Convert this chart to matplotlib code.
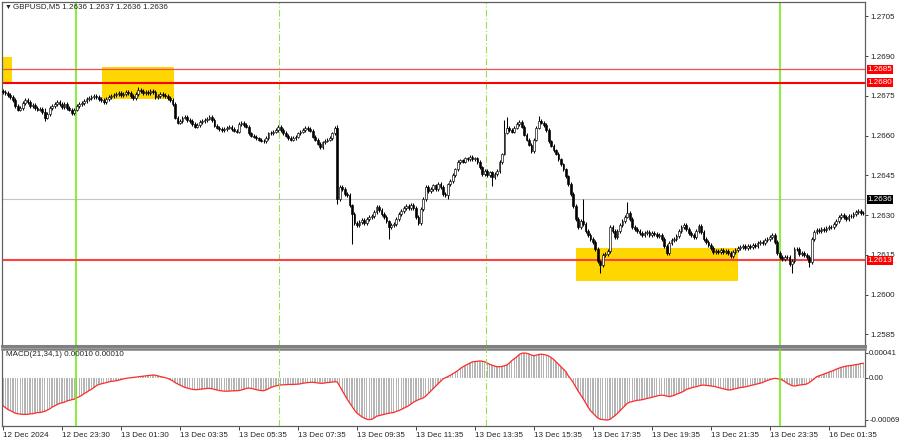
import matplotlib.pyplot as plt
from matplotlib.patches import Rectangle
import numpy as np

plt.rcParams['font.family'] = ['Liberation Sans', 'DejaVu Sans']

BASE = 1.2600
PIP = 0.0001

# closes of the M5 bars, in pips above 1.2600
close_pips = [
    76.5, 76.1, 75.4, 74.6, 73.5, 71.2, 69.8, 70.5, 72.4, 73.5,
    72.8, 71.2, 71.6, 70.5, 69.8, 70.1, 69.0, 66.8, 68.2, 70.5,
    71.2, 72.0, 72.8, 72.0, 70.9, 72.0, 70.5, 69.8, 68.6, 69.8,
    71.2, 72.0, 72.4, 73.1, 73.9, 74.2, 74.6, 75.0, 74.6, 73.9,
    73.5, 72.8, 73.9, 74.6, 75.0, 75.4, 75.8, 76.1, 75.4, 75.8,
    76.5, 76.1, 75.0, 74.2, 75.8, 77.2, 76.9, 76.1, 76.5, 76.1,
    76.9, 76.5, 74.6, 75.0, 75.8, 75.4, 75.0, 74.2, 73.5, 72.0,
    66.8, 64.9, 65.6, 66.8, 67.1, 66.0, 65.6, 64.5, 63.4, 64.1,
    65.2, 65.6, 66.0, 66.4, 67.1, 66.0, 63.8, 63.0, 62.6, 62.2,
    62.6, 63.0, 63.4, 62.6, 61.9, 61.5, 64.5, 64.9, 64.1, 63.4,
    60.8, 60.0, 59.6, 58.9, 58.5, 58.1, 57.8, 59.2, 60.8, 61.1,
    61.5, 62.2, 63.4, 62.2, 61.1, 60.0, 59.2, 58.5, 59.2, 59.6,
    60.8, 61.5, 62.2, 63.0, 62.6, 61.9, 59.6, 58.5, 57.0, 55.5,
    57.4, 58.1, 58.5, 59.2, 60.8, 63.0, 36.0, 40.5, 39.8, 37.9,
    37.5, 33.8, 30.4, 27.0, 26.2, 27.4, 28.1, 27.0, 28.5, 29.2,
    29.6, 31.1, 33.0, 31.9, 30.4, 29.2, 27.8, 25.5, 26.2, 26.6,
    28.5, 30.4, 31.5, 32.6, 33.4, 32.6, 33.8, 32.6, 29.2, 27.0,
    32.2, 36.0, 40.5, 39.0, 39.8, 41.2, 39.8, 41.6, 40.5, 37.9,
    37.5, 41.6, 42.8, 45.0, 47.2, 49.9, 50.6, 50.2, 51.4, 51.0,
    51.8, 51.0, 51.4, 49.9, 48.0, 45.4, 46.5, 45.0, 46.1, 44.2,
    45.4, 46.5, 49.9, 52.9, 61.1, 63.0, 62.2, 61.5, 63.0, 64.5,
    65.2, 63.4, 60.4, 58.5, 56.6, 54.0, 58.5, 63.0, 65.6, 64.9,
    64.1, 62.2, 57.8, 56.2, 54.4, 53.2, 51.0, 49.1, 47.2, 44.6,
    41.6, 37.9, 33.4, 28.5, 25.5, 27.8, 26.6, 24.0, 22.5, 21.0,
    19.9, 17.2, 12.8, 11.2, 15.0, 15.4, 16.5, 25.5, 24.0, 21.8,
    24.0, 26.2, 27.8, 29.2, 30.8, 28.5, 25.5, 24.8, 24.0, 23.2,
    22.5, 23.2, 23.6, 22.5, 23.2, 22.9, 22.1, 22.5, 21.0, 18.4,
    15.8, 19.5, 20.6, 21.0, 22.1, 24.0, 25.5, 26.2, 24.8, 23.2,
    22.5, 21.8, 24.0, 25.9, 23.6, 21.0, 19.9, 18.8, 17.6, 16.1,
    16.5, 16.1, 16.9, 16.1, 16.5, 15.8, 14.6, 16.1, 16.9, 17.6,
    18.0, 18.4, 17.6, 18.4, 18.0, 18.8, 18.4, 19.5, 19.9, 19.5,
    20.6, 21.0, 21.8, 22.5, 19.9, 15.8, 14.2, 13.5, 14.2, 14.2,
    11.6, 12.8, 17.2, 17.2, 15.4, 15.8, 15.0, 14.2, 12.4, 21.0,
    23.6, 24.4, 24.0, 24.8, 24.4, 25.1, 25.5, 25.5, 26.6, 27.8,
    29.2, 30.0, 29.2, 28.5, 29.6, 29.6, 30.4, 31.1, 31.5, 30.8, 30.8,
]
first_open_pips = 77.0
wick_pips = 0.7
# bars with long shadows: index -> (high, low) in pips
long_wicks = {
    17: (70.5, 65.5), 55: (78.5, 75.0), 136: (64.0, 34.0), 142: (34.0, 19.0),
    157: (28.0, 21.0), 181: (42.0, 36.0), 199: (46.5, 41.0), 204: (66.0, 52.5),
    205: (67.0, 60.5), 218: (67.5, 62.5), 236: (36.0, 26.0), 243: (13.0, 8.0),
    254: (35.0, 29.0), 321: (13.5, 8.0), 328: (15.0, 10.5),
}

# MACD(21,34,1) main value per bar, in 1e-5
macd = [
    -46, -49, -52, -54, -56, -58, -59, -59.5, -60, -60,
    -60, -59, -59, -58, -57, -57, -56, -55, -53, -51,
    -48, -46, -44, -42, -41, -40, -38, -37, -36, -35,
    -33, -31, -29, -26, -24, -21, -19, -16, -13, -11,
    -10, -9, -8, -7, -6, -5.5, -5, -4, -3, -2,
    -1, -0.5, 0, 0.5, 1, 1.5, 2, 2.5, 3, 3.5,
    4, 4.5, 4, 3, 2, 1, 0, -1, -3, -5,
    -8, -10, -12, -14, -16, -17, -18, -19, -19.5, -19.5,
    -19, -18.5, -18, -17.5, -17.4, -18, -19, -20, -21, -21.5,
    -22, -22, -22, -21.5, -21.5, -21.3, -21, -20, -19, -17.5,
    -17, -17.5, -18.5, -19.5, -20.5, -21, -21.3, -20, -18, -16,
    -14.5, -13.5, -12.5, -12, -11.5, -11.5, -11, -11, -11, -10.8,
    -10.5, -10, -9, -8.5, -8, -7.5, -7.5, -8, -8.5, -9,
    -9.2, -8.5, -8, -7.5, -7, -6.6, -7, -14, -21, -28,
    -35, -41, -47, -53, -58, -61, -64, -66, -68, -68.5,
    -68, -66, -63, -62, -61, -60, -59, -58, -57.5, -57,
    -55, -54, -52, -50, -48, -46, -43, -40, -38, -36,
    -34.5, -33, -30, -26, -22, -18, -14, -10, -6, -2,
    0, 2, 4, 6.5, 9, 11.5, 15, 17.5, 20, 22,
    24, 26, 26.5, 27, 27.4, 27, 26, 24, 22, 20.5,
    19, 18, 18, 18.5, 19.5, 21, 24, 28, 31, 34,
    38, 40, 40.5, 40, 38.9, 37, 36, 37, 38, 38.5,
    38, 37, 35.5, 33, 30, 26, 22, 18, 14, 10,
    3, -2, -8, -15, -22, -28, -34, -41, -48, -54,
    -58, -62, -66, -68, -68.5, -69, -69.3, -68, -65, -62,
    -58.4, -54, -50, -46, -42, -40, -39, -38, -37, -36.6,
    -36, -35, -34, -33, -32, -31, -30, -29, -28.5, -29,
    -30, -31, -30, -29, -27, -25.6, -24, -22, -19, -18,
    -16.5, -15.5, -14.8, -13.5, -12.5, -12, -12.5, -13, -13.5, -14,
    -14.8, -16, -17, -18, -19, -20, -20, -19, -18, -17,
    -16, -15.7, -15, -14, -13, -12, -11, -10, -9, -8,
    -6, -4.5, -3, -2, -1, -1.5, -2.5, -3.8, -6, -9,
    -11, -13, -13.5, -13, -12, -11.5, -11, -10.3, -8, -5,
    -2, 1.6, 3, 4.5, 6, 7.5, 9, 10.5, 12, 14,
    15.5, 17, 18, 19, 19.5, 20, 20.8, 21.5, 22, 23, 23.6,
]

time_ticks = [0, 24, 48, 72, 96, 120, 144, 168, 192, 216, 240, 264, 288, 312, 336]
time_labels = ['12 Dec 2024', '12 Dec 23:30', '13 Dec 01:30', '13 Dec 03:35', '13 Dec 05:35',
               '13 Dec 07:35', '13 Dec 09:35', '13 Dec 11:35', '13 Dec 13:35', '13 Dec 15:35',
               '13 Dec 17:35', '13 Dec 19:35', '13 Dec 21:35', '13 Dec 23:35', '16 Dec 01:35']
price_ticks = [1.2705, 1.2690, 1.2675, 1.2660, 1.2645, 1.2630, 1.2615, 1.2600, 1.2585]
levels = [1.2685, 1.2680, 1.2613]
last_price = 1.2636
# yellow zones: (first bar, last bar, low price, high price)
zones = [(-0.4, 3.7, 1.26803, 1.26896), (40.3, 69.6, 1.26739, 1.26859), (233.1, 299.0, 1.26053, 1.26176)]
day_lines = [29.6, 316.1]
session_lines = [112.3, 196.4]
macd_ticks = [41, 0, -69]
macd_tick_labels = ['0.00041', '0.00', '-0.00069']

FS = 5.8
BORDER = '#606060'
TXT = '#222222'

close = BASE + np.array(close_pips) * PIP
idx = np.arange(len(close))
opn = np.r_[BASE + first_open_pips * PIP, close[:-1]]
high = np.maximum(opn, close) + wick_pips * PIP
low = np.minimum(opn, close) - wick_pips * PIP
for i, (h, l) in long_wicks.items():
    high[i] = BASE + h * PIP
    low[i] = BASE + l * PIP

fig = plt.figure(figsize=(9, 4.41), dpi=100)
ax = fig.add_axes([2 / 900, 1 - 346 / 441, 863 / 900, 344 / 441])
axm = fig.add_axes([2 / 900, 1 - 426 / 441, 863 / 900, 77 / 441])

# main price panel
for x0, x1, p0, p1 in zones:
    ax.add_patch(Rectangle((x0, p0), x1 - x0, p1 - p0, facecolor='#FFD700', edgecolor='none', zorder=1))

ax.axhline(last_price, color='#c4c4c4', lw=0.8, zorder=1.5)
ax.axhline(levels[0], color='#f05050', lw=0.9, zorder=2)
ax.axhline(levels[1], color='#ff0000', lw=1.5, zorder=2)
ax.axhline(levels[2], color='#ff4040', lw=1.5, zorder=2)

for d in day_lines:
    ax.axvline(d, color='#66ee00', lw=1.1, zorder=1.6)
    axm.axvline(d, color='#66ee00', lw=1.1, zorder=3)
for s in session_lines:
    ax.axvline(s, color='#96e050', lw=0.8, ls=(0, (6, 2, 1, 2)), zorder=1.6)
    axm.axvline(s, color='#96e050', lw=0.8, ls=(0, (6, 2, 1, 2)), zorder=3)

up = close >= opn
ax.vlines(idx, low, high, color='black', lw=0.75, zorder=3)
ax.bar(idx[up], (close - opn)[up], bottom=opn[up], width=0.72, color='white',
       edgecolor='black', linewidth=0.45, zorder=4)
ax.bar(idx[~up], (close - opn)[~up], bottom=opn[~up], width=0.72, color='black',
       edgecolor='black', linewidth=0.45, zorder=4)

ax.set_xlim(-0.41, 350.7)
ax.set_ylim(1.25806, 1.27104)
ax.yaxis.tick_right()
ax.set_yticks(price_ticks)
ax.set_yticklabels(['%.4f' % p for p in price_ticks])
ax.tick_params(axis='y', labelsize=FS, length=2.5, width=0.6, pad=1.5, colors=TXT)
ax.set_xticks([])
for sp in ax.spines.values():
    sp.set_color(BORDER)
    sp.set_linewidth(0.9)
ax.spines['bottom'].set_linewidth(2.2)
ax.spines['bottom'].set_color('#808080')

for p, col in [(levels[0], 'red'), (levels[1], 'red'), (levels[2], 'red'), (last_price, 'black')]:
    ax.text(1.003, p, '%.4f' % p, transform=ax.get_yaxis_transform(), ha='left', va='center',
            color='white', fontsize=FS, zorder=10, clip_on=False,
            bbox=dict(boxstyle='square,pad=0.13', fc=col, ec='none'))

fig.text(5 / 900, 1 - 7 / 441, '\u25bc', fontsize=5, va='center', ha='left', color=TXT)
fig.text(13 / 900, 1 - 7 / 441, 'GBPUSD,M5 1.2636 1.2637 1.2636 1.2636',
         fontsize=FS, va='center', ha='left', color=TXT)

# MACD panel
axm.bar(idx, macd, width=0.55, color='#b4b4b4', zorder=1)
axm.plot(idx, macd, color='#ff2a2a', lw=0.9, zorder=2)
axm.set_xlim(-0.41, 350.7)
axm.set_ylim(-79, 47)
axm.yaxis.tick_right()
axm.set_yticks(macd_ticks)
axm.set_yticklabels(macd_tick_labels)
axm.tick_params(axis='y', labelsize=5.6, length=2, width=0.6, pad=1, colors=TXT)
axm.set_xticks(time_ticks)
axm.set_xticklabels(time_labels)
axm.tick_params(axis='x', labelsize=FS, length=3, width=0.6, pad=1.5, colors=TXT)
for lab in axm.get_xticklabels():
    lab.set_horizontalalignment('left')
for sp in axm.spines.values():
    sp.set_color(BORDER)
    sp.set_linewidth(0.9)
axm.spines['top'].set_linewidth(1.8)
axm.spines['top'].set_color('#808080')
axm.text(4 / 863, 1 - 6 / 77, 'MACD(21,34,1) 0.00010 0.00010', transform=axm.transAxes,
         fontsize=FS, va='center', ha='left', color=TXT)

fig.savefig('out.png', dpi=100)
